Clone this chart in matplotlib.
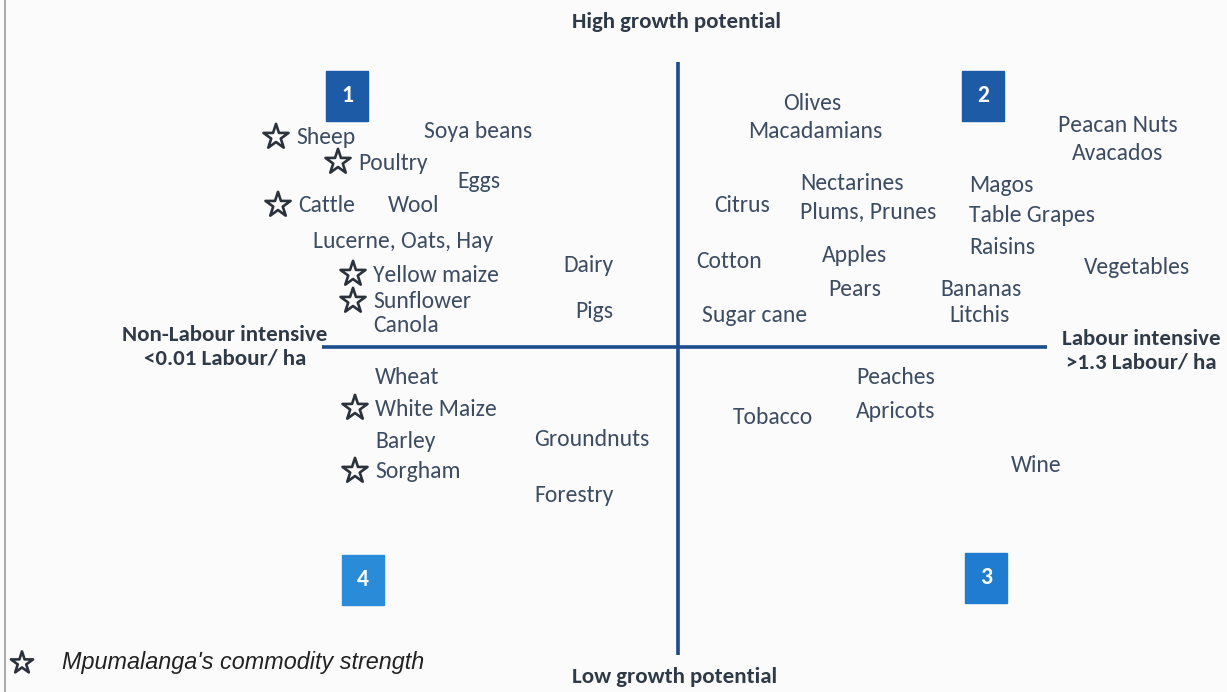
import matplotlib.pyplot as plt
from matplotlib import font_manager
from matplotlib.patches import Rectangle

# chart units: x = labour intensity, y = growth potential (axes cross at 0, 0)
labels = ["Sheep", "Soya beans", "Poultry", "Eggs", "Cattle", "Wool",
          "Lucerne, Oats, Hay", "Yellow maize", "Sunflower", "Canola", "Dairy", "Pigs",
          "Olives", "Macadamians", "Peacan Nuts", "Avacados", "Nectarines",
          "Plums, Prunes", "Citrus", "Magos", "Table Grapes", "Raisins", "Cotton",
          "Apples", "Pears", "Bananas", "Litchis", "Vegetables", "Sugar cane",
          "Peaches", "Apricots", "Tobacco", "Wine",
          "Wheat", "White Maize", "Barley", "Sorgham", "Groundnuts", "Forestry"]
label_x = [-382, -254, -320, -221, -380, -290,
           -365, -305, -305, -305, -115, -103,
           105, 70, 380, 394, 122,
           122, 36, 291, 291, 291, 18,
           144, 150, 262, 271, 406, 24,
           178, 178, 55, 333,
           -303, -303, -303, -303, -144, -144]
label_y = [209, 215, 184, 165, 141, 142,
           106, 72, 45, 22, 81, 36,
           244, 216, 221, 193, 163,
           135, 141, 162, 132, 99, 85,
           91, 57, 57, 32, 79, 31,
           -31, -65, -71, -119,
           -31, -62, -95, -125, -93, -149]
starred = ["Sheep", "Poultry", "Cattle", "Yellow maize", "Sunflower",
           "White Maize", "Sorgham"]
quadrants = ["1", "2", "3", "4"]
quad_x = [-331, 305, 308, -315]
quad_y = [251, 251, -231, -233]
quad_colors = ["#1d5ba6", "#1d5ba6", "#1f7cd0", "#2a8bd8"]

text_col = "#3c4c63"
line_col = "#1b4d8c"
star_col = "#2b323c"

installed = {f.name for f in font_manager.fontManager.ttflist}
main_font = "DejaVu Sans"
for cand in ["Carlito", "Liberation Sans Narrow", "PT Sans Narrow",
             "Roboto Condensed", "Archivo Narrow", "Fira Sans Condensed"]:
    if cand in installed:
        main_font = cand
        break
font = [main_font, "DejaVu Sans"]

fig = plt.figure(figsize=(12.27, 6.92), dpi=100)
fig.patch.set_facecolor("#fbfbfb")
ax = fig.add_axes([0, 0, 1, 1])
ax.set_xlim(-678, 549)
ax.set_ylim(-345, 347)
ax.axis("off")

# quadrant axes
ax.plot([-356, 369], [0, 0], color=line_col, lw=2.6, solid_capstyle="butt")
ax.plot([0, 0], [-308, 285], color=line_col, lw=2.6, solid_capstyle="butt")

# page border from the scan
ax.plot([-673, -673], [-345, 347], color="#9a9a9a", lw=1.2)

star_x, star_y = [], []
for name, x, y in zip(labels, label_x, label_y):
    ax.text(x, y, name, ha="left", va="center", fontsize=17, color=text_col,
            family=font)
    if name in starred:
        star_x.append(x - 20)
        star_y.append(y + 1)
ax.scatter(star_x, star_y, marker="*", s=360, facecolors="none",
           edgecolors=star_col, linewidths=1.9)

for q, x, y, c in zip(quadrants, quad_x, quad_y, quad_colors):
    ax.add_patch(Rectangle((x - 21, y - 25), 42, 50, color=c, zorder=3))
    ax.text(x, y, q, ha="center", va="center", fontsize=17, color="white",
            fontweight="bold", family=font, zorder=4)

axis_col = "#2f3a48"
ax.text(-2, 325, "High growth potential", ha="center", va="center", fontsize=16.5,
        color=axis_col, fontweight="bold", family=font)
ax.text(-3, -330, "Low growth potential", ha="center", va="center", fontsize=16.5,
        color=axis_col, fontweight="bold", family=font)
ax.text(-453, 0, "Non-Labour intensive\n<0.01 Labour/ ha", ha="center", va="center",
        fontsize=16.5, color=axis_col, fontweight="bold", family=font, linespacing=1.2)
ax.text(463, -4, "Labour intensive\n>1.3 Labour/ ha", ha="center", va="center",
        fontsize=16.5, color=axis_col, fontweight="bold", family=font, linespacing=1.2)

# legend
ax.scatter([-656], [-316], marker="*", s=280, facecolors="none",
           edgecolors=star_col, linewidths=1.9)
ax.text(-616, -316, "Mpumalanga's commodity strength", ha="left", va="center",
        fontsize=16.8, color="#222222", style="italic", family=["Liberation Sans"])

fig.savefig("out.png", dpi=100, facecolor=fig.get_facecolor())
